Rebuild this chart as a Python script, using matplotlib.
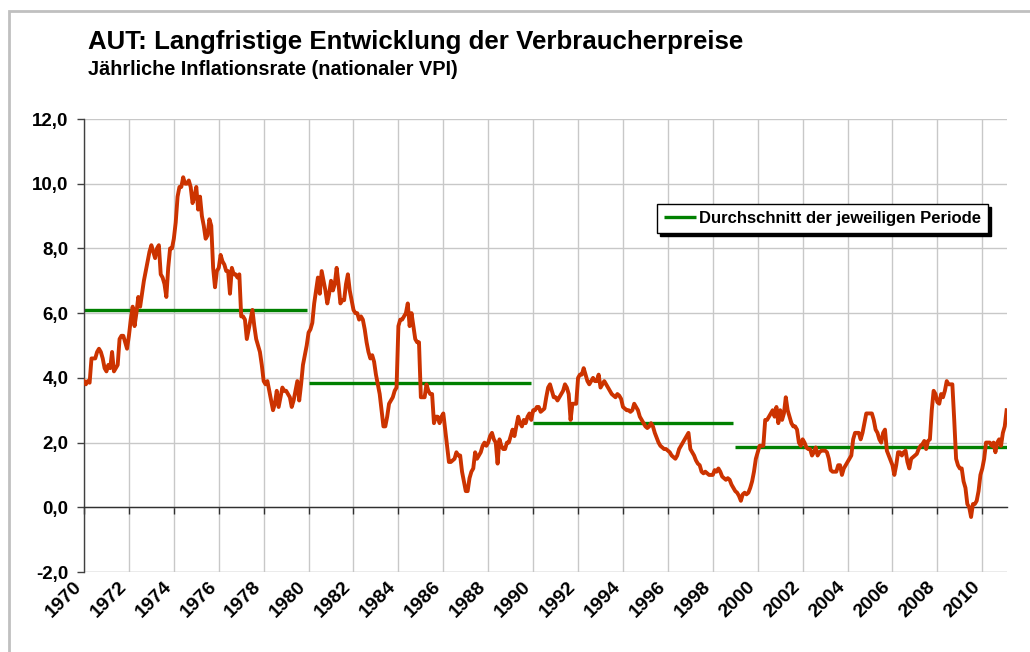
import matplotlib
matplotlib.use("Agg")
import matplotlib.pyplot as plt
from matplotlib.patches import Rectangle
import matplotlib.transforms as mtransforms
import numpy as np

plt.rcParams['font.family'] = ['Liberation Sans', 'DejaVu Sans']
plt.rcParams['font.weight'] = 'bold'

# Monthly inflation rate (%), Jan 1970 .. Feb 2011, one list per year
infl_1970s = [
    [3.9, 3.8, 3.9, 3.85, 4.6, 4.6, 4.6, 4.8, 4.9, 4.8, 4.6, 4.3],      # 1970
    [4.2, 4.4, 4.3, 4.8, 4.2, 4.3, 4.4, 5.2, 5.3, 5.3, 5.1, 4.9],       # 1971
    [5.3, 5.8, 6.2, 5.6, 6.0, 6.5, 6.2, 6.6, 7.0, 7.3, 7.6, 7.9],       # 1972
    [8.1, 7.9, 7.7, 8.0, 8.1, 7.2, 7.1, 6.9, 6.5, 7.4, 8.0, 8.0],       # 1973
    [8.3, 8.8, 9.6, 9.9, 9.9, 10.2, 10.0, 10.0, 10.1, 9.9, 9.4, 9.6],   # 1974
    [9.9, 9.2, 9.6, 9.0, 8.7, 8.3, 8.4, 8.9, 8.7, 7.4, 6.8, 7.3],       # 1975
    [7.4, 7.8, 7.6, 7.5, 7.3, 7.3, 6.6, 7.4, 7.2, 7.2, 7.1, 7.2],       # 1976
    [5.9, 5.9, 5.8, 5.2, 5.5, 5.8, 6.1, 5.6, 5.2, 5.0, 4.8, 4.4],       # 1977
    [3.9, 3.8, 3.9, 3.6, 3.3, 3.0, 3.2, 3.6, 3.1, 3.4, 3.7, 3.6],       # 1978
    [3.6, 3.5, 3.4, 3.1, 3.3, 3.6, 3.9, 3.3, 3.8, 4.4, 4.7, 5.0],       # 1979
]
infl_1980s = [
    [5.4, 5.5, 5.7, 6.3, 6.7, 7.1, 6.6, 7.3, 7.0, 6.7, 6.3, 6.6],       # 1980
    [7.0, 6.7, 6.9, 7.4, 6.9, 6.3, 6.4, 6.4, 6.9, 7.2, 6.7, 6.4],       # 1981
    [6.1, 6.0, 6.0, 5.8, 5.9, 5.8, 5.5, 5.1, 4.8, 4.6, 4.7, 4.5],       # 1982
    [4.1, 3.8, 3.5, 3.0, 2.5, 2.5, 2.8, 3.2, 3.3, 3.4, 3.6, 3.7],       # 1983
    [5.6, 5.8, 5.8, 5.9, 6.0, 6.3, 5.6, 6.0, 5.6, 5.2, 5.1, 5.1],       # 1984
    [3.4, 3.4, 3.4, 3.8, 3.6, 3.5, 3.5, 2.6, 2.8, 2.8, 2.6, 2.8],       # 1985
    [2.9, 2.4, 1.9, 1.4, 1.4, 1.45, 1.5, 1.7, 1.6, 1.6, 1.1, 0.8],      # 1986
    [0.5, 0.5, 0.9, 1.1, 1.2, 1.7, 1.5, 1.6, 1.7, 1.9, 2.0, 1.9],       # 1987
    [2.0, 2.2, 2.3, 2.1, 2.0, 1.35, 2.1, 1.9, 1.8, 1.8, 2.0, 2.0],      # 1988
    [2.2, 2.4, 2.2, 2.5, 2.8, 2.6, 2.5, 2.7, 2.6, 2.8, 2.9, 2.7],       # 1989
]
infl_1990s = [
    [3.0, 3.0, 3.1, 3.1, 2.95, 3.0, 3.05, 3.4, 3.7, 3.8, 3.6, 3.4],     # 1990
    [3.4, 3.3, 3.4, 3.5, 3.6, 3.8, 3.7, 3.5, 2.7, 3.2, 3.2, 3.2],       # 1991
    [4.0, 4.1, 4.1, 4.3, 4.1, 3.9, 3.8, 3.9, 4.0, 3.9, 3.9, 4.1],       # 1992
    [3.7, 3.8, 3.9, 3.8, 3.7, 3.6, 3.5, 3.45, 3.4, 3.5, 3.45, 3.35],    # 1993
    [3.1, 3.05, 3.0, 3.0, 2.95, 3.0, 3.2, 3.1, 3.0, 2.8, 2.7, 2.6],     # 1994
    [2.5, 2.45, 2.5, 2.6, 2.5, 2.3, 2.15, 2.0, 1.9, 1.85, 1.8, 1.8],    # 1995
    [1.75, 1.7, 1.6, 1.55, 1.5, 1.6, 1.8, 1.9, 2.0, 2.1, 2.2, 2.3],     # 1996
    [1.8, 1.7, 1.6, 1.45, 1.35, 1.3, 1.1, 1.05, 1.1, 1.05, 1.0, 1.0],   # 1997
    [1.0, 1.15, 1.1, 1.2, 1.1, 0.95, 0.9, 0.85, 0.9, 0.85, 0.7, 0.6],   # 1998
    [0.5, 0.45, 0.35, 0.2, 0.4, 0.45, 0.4, 0.45, 0.6, 0.8, 1.1, 1.5],   # 1999
]
infl_2000s = [
    [1.7, 1.9, 1.9, 1.9, 2.7, 2.7, 2.8, 2.9, 3.0, 2.8, 3.1, 2.6],       # 2000
    [3.0, 2.7, 2.9, 3.4, 3.0, 2.8, 2.6, 2.5, 2.5, 2.4, 2.0, 1.9],       # 2001
    [2.1, 2.0, 1.85, 1.8, 1.8, 1.6, 1.7, 1.85, 1.6, 1.7, 1.75, 1.75],   # 2002
    [1.75, 1.7, 1.5, 1.15, 1.1, 1.1, 1.1, 1.3, 1.3, 1.0, 1.2, 1.3],     # 2003
    [1.4, 1.5, 1.6, 2.1, 2.3, 2.3, 2.3, 2.1, 2.3, 2.6, 2.9, 2.9],       # 2004
    [2.9, 2.9, 2.7, 2.4, 2.3, 2.1, 2.0, 2.3, 2.4, 1.75, 1.6, 1.45],     # 2005
    [1.3, 1.0, 1.3, 1.7, 1.7, 1.6, 1.7, 1.75, 1.4, 1.2, 1.5, 1.55],     # 2006
    [1.6, 1.65, 1.8, 1.9, 1.95, 2.05, 1.8, 2.05, 2.1, 3.0, 3.6, 3.5],   # 2007
    [3.25, 3.2, 3.5, 3.4, 3.6, 3.9, 3.8, 3.8, 3.8, 2.7, 1.5, 1.3],      # 2008
    [1.2, 1.2, 0.8, 0.6, 0.1, 0.0, -0.3, 0.1, 0.1, 0.2, 0.5, 1.0],      # 2009
    [1.2, 1.5, 2.0, 2.0, 2.0, 1.9, 2.0, 1.7, 2.0, 2.1, 1.9, 2.3],       # 2010
    [2.5, 3.0],                                                         # 2011
]

# Period averages
period_start = [1970, 1980, 1990, 1999]
period_end = [1979.92, 1989.92, 1998.92, 2011.08]
period_avg = [6.1, 3.85, 2.6, 1.85]

year_ticks = list(range(1970, 2011, 2))
y_ticks = [-2, 0, 2, 4, 6, 8, 10, 12]

title = "AUT: Langfristige Entwicklung der Verbraucherpreise"
subtitle = "Jährliche Inflationsrate (nationaler VPI)"
legend_label = "Durchschnitt der jeweiligen Periode"

values = [v for block in (infl_1970s, infl_1980s, infl_1990s, infl_2000s) for yr in block for v in yr]
t = 1970 + np.arange(len(values)) / 12.0

fig = plt.figure(figsize=(10.30, 6.52), dpi=100)
ax = fig.add_axes([84 / 1030, 1 - 572 / 652, (1007 - 84) / 1030, (572 - 119) / 652])

# outer frame
fig.patches.append(Rectangle((9 / 1030, -0.05), 1.2, 1 - 11 / 652 + 0.05,
                             transform=fig.transFigure, fill=False,
                             edgecolor='#c0c0c0', linewidth=2.0, zorder=0))

ax.set_xlim(1970, 2011.1)
ax.set_ylim(-2, 12)

ax.set_yticks(y_ticks)
ax.set_yticklabels([f"{v:.1f}".replace('.', ',') for v in y_ticks], fontsize=13.5, fontweight='bold')
ax.set_xticks(year_ticks)
ax.grid(True, color='#c8c8c8', linewidth=1.0)
ax.set_axisbelow(True)

for s in ['top', 'right']:
    ax.spines[s].set_visible(False)
ax.spines['left'].set_color('#404040')
ax.spines['left'].set_linewidth(1.0)
ax.spines['bottom'].set_position(('data', 0))
ax.spines['bottom'].set_color('#303030')
ax.spines['bottom'].set_linewidth(1.0)
ax.tick_params(axis='x', direction='out', length=5, width=1, color='#303030', labelbottom=False)
ax.tick_params(axis='y', direction='out', length=5, width=1, color='#404040', pad=6)

ax.axhline(-2, color='#c8c8c8', linewidth=1.0, zorder=0.5)

sec = ax.secondary_xaxis(0)
sec.set_xticks(year_ticks)
sec.set_xticklabels([str(y) for y in year_ticks], rotation=45, ha='right', va='center',
                    rotation_mode='anchor', fontsize=14, fontweight='bold')
sec.tick_params(length=0, pad=9)
sec.spines['bottom'].set_visible(False)
shift = mtransforms.ScaledTranslation(-5 / 100, 0, fig.dpi_scale_trans)
for lab in sec.get_xticklabels():
    lab.set_transform(lab.get_transform() + shift)

for i, (s, e, a) in enumerate(zip(period_start, period_end, period_avg)):
    ax.hlines(a, s, e, color='#008000', linewidth=2.4, zorder=2,
              label=legend_label if i == 0 else None)

ax.plot(t, values, color='#cc3300', linewidth=2.8, zorder=3, solid_joinstyle='round')

leg = ax.legend(loc='upper left', bbox_to_anchor=(0.621, 0.812), frameon=True, fancybox=False,
                shadow={'color': 'black', 'alpha': 1.0}, prop={'weight': 'bold', 'size': 12},
                handlelength=1.9, handletextpad=0.2, borderpad=0.42, borderaxespad=0)
leg.get_frame().set_edgecolor('black')
leg.get_frame().set_linewidth(1.0)

fig.text(88 / 1030, 1 - 49 / 652, title, fontsize=18.6, fontweight='bold', va='baseline')
fig.text(88 / 1030, 1 - 75 / 652, subtitle, fontsize=14.3, fontweight='bold', va='baseline')

fig.savefig("out.png", dpi=100)
